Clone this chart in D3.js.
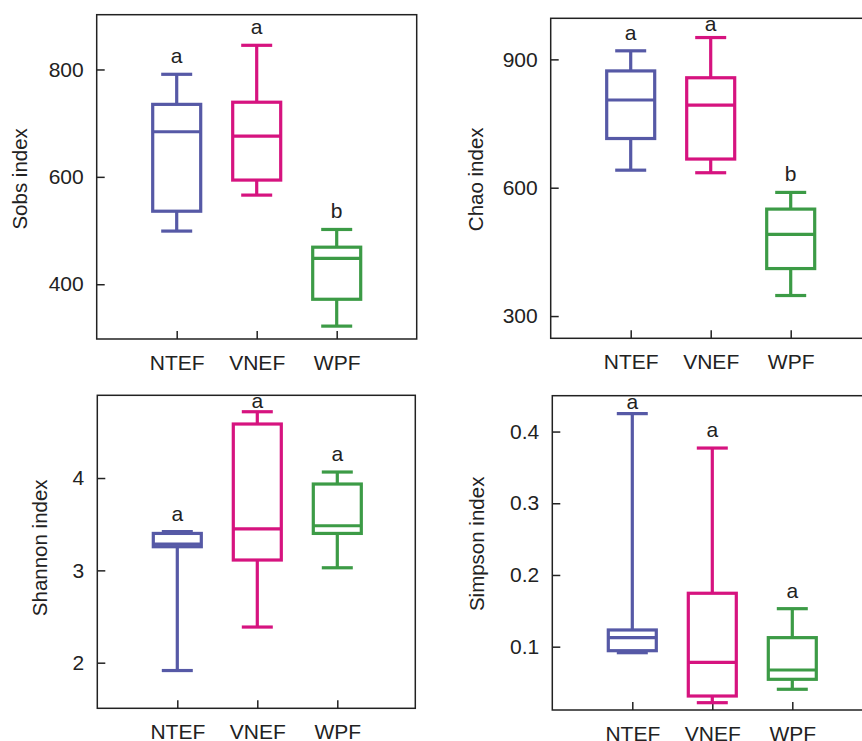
<!DOCTYPE html>
<html>
<head>
<meta charset="utf-8">
<script src="https://cdn.jsdelivr.net/npm/d3@7"></script>
<style>
  body { margin: 0; background: #fff; }
  text { font-family: "Liberation Sans", Arial, sans-serif; fill: #222; }
</style>
</head>
<body>
<svg id="chart" width="862" height="741"></svg>
<script>
// groups and colours
var groups = ["NTEF", "VNEF", "WPF"];
var colors = ["#5659a6", "#d6137f", "#3c9b46"];

// box stats per group: [min, q1, median, q3, max]
var sobsStats = [[499, 536, 684, 735, 791], [566, 594, 676, 739, 845], [322, 372, 448, 469, 502]];
var chaoStats = [[641, 715, 805, 873, 920], [635, 667, 793, 857, 951], [348, 411, 491, 550, 589]];
var shannonStats = [[1.915, 3.256, 3.285, 3.40, 3.42], [2.386, 3.112, 3.45, 4.585, 4.718], [3.028, 3.40, 3.483, 3.935, 4.065]];
var simpsonStats = [[0.0916, 0.0944, 0.1126, 0.1233, 0.425], [0.0219, 0.0312, 0.0782, 0.1745, 0.377], [0.0406, 0.0545, 0.0675, 0.1126, 0.153]];

// significance letters
var sobsLetters = ["a", "a", "b"];
var chaoLetters = ["a", "a", "b"];
var shannonLetters = ["a", "a", "a"];
var simpsonLetters = ["a", "a", "a"];

// y domains and ticks
var sobsDomain = [298, 902], sobsTicks = [400, 600, 800];
var chaoDomain = [248, 996], chaoTicks = [300, 600, 900];
var shannonDomain = [1.506, 4.896], shannonTicks = [2, 3, 4];
var simpsonDomain = [0.0117, 0.450], simpsonTicks = [0.1, 0.2, 0.3, 0.4];

var svg = d3.select("#chart");

// panel layout
var panels = [
  {left: 96.7, top: 14.7, w: 320, h: 324.3, label: "Sobs index", labelX: -70, labelDy: 2,
   stats: sobsStats, letters: sobsLetters, domain: sobsDomain, ticks: sobsTicks, fmt: d3.format("d")},
  {left: 550.7, top: 18.3, w: 320, h: 320, label: "Chao index", labelX: -67.4, labelDy: 1,
   stats: chaoStats, letters: chaoLetters, domain: chaoDomain, ticks: chaoTicks, fmt: d3.format("d")},
  {left: 97.3, top: 395.3, w: 318, h: 313, label: "Shannon index", labelX: -50.6, labelDy: -4,
   stats: shannonStats, letters: shannonLetters, domain: shannonDomain, ticks: shannonTicks, fmt: d3.format("d")},
  {left: 552.3, top: 395.7, w: 320, h: 314.3, label: "Simpson index", labelX: -68, labelDy: -9,
   stats: simpsonStats, letters: simpsonLetters, domain: simpsonDomain, ticks: simpsonTicks, fmt: d3.format(".1f")}
];

var boxW = 48, capW = 31;

panels.forEach(function(p) {
  var g = svg.append("g").attr("transform", "translate(" + p.left + "," + p.top + ")");

  var x = d3.scaleLinear().domain([0, 4]).range([0, 320]);
  var y = d3.scaleLinear().domain(p.domain).range([p.h, 0]);

  // axes, ticks pointing inward
  var ya = g.append("g")
      .call(d3.axisLeft(y).tickValues(p.ticks).tickFormat(p.fmt).tickSizeInner(-8).tickSizeOuter(0).tickPadding(13));
  var xa = g.append("g")
      .attr("transform", "translate(0," + p.h + ")")
      .call(d3.axisBottom(x).tickValues([1, 2, 3]).tickFormat(function(d) { return groups[d - 1]; })
        .tickSizeInner(-8).tickSizeOuter(0).tickPadding(16));
  [ya, xa].forEach(function(a) {
    a.select(".domain").remove();
    a.selectAll("line").attr("stroke", "#222").attr("stroke-width", 1.5);
    a.selectAll("text").style("font-size", "21px").attr("fill", "#222");
  });

  // frame
  g.append("rect")
      .attr("width", p.w).attr("height", p.h)
      .attr("fill", "none").attr("stroke", "#222").attr("stroke-width", 1.5);

  // y label
  g.append("text")
      .attr("transform", "translate(" + p.labelX + "," + (p.h / 2 + p.labelDy) + ") rotate(-90)")
      .attr("text-anchor", "middle")
      .style("font-size", "20.5px")
      .text(p.label);

  // boxes
  var box = g.selectAll(".box")
    .data(p.stats)
    .enter().append("g")
      .attr("class", "box")
      .attr("stroke", function(d, i) { return colors[i]; })
      .attr("stroke-width", 3.2)
      .attr("fill", "none");

  box.append("line")
      .attr("x1", function(d, i) { return x(i + 1); })
      .attr("x2", function(d, i) { return x(i + 1); })
      .attr("y1", function(d) { return y(d[4]); })
      .attr("y2", function(d) { return y(d[3]); });
  box.append("line")
      .attr("x1", function(d, i) { return x(i + 1); })
      .attr("x2", function(d, i) { return x(i + 1); })
      .attr("y1", function(d) { return y(d[1]); })
      .attr("y2", function(d) { return y(d[0]); });
  [0, 4].forEach(function(k) {
    box.append("line")
        .attr("x1", function(d, i) { return x(i + 1) - capW / 2; })
        .attr("x2", function(d, i) { return x(i + 1) + capW / 2; })
        .attr("y1", function(d) { return y(d[k]); })
        .attr("y2", function(d) { return y(d[k]); });
  });
  box.append("rect")
      .attr("x", function(d, i) { return x(i + 1) - boxW / 2; })
      .attr("y", function(d) { return y(d[3]); })
      .attr("width", boxW)
      .attr("height", function(d) { return y(d[1]) - y(d[3]); });
  box.append("line")
      .attr("x1", function(d, i) { return x(i + 1) - boxW / 2; })
      .attr("x2", function(d, i) { return x(i + 1) + boxW / 2; })
      .attr("y1", function(d) { return y(d[2]); })
      .attr("y2", function(d) { return y(d[2]); });

  // letters above whiskers
  g.selectAll(".letter")
    .data(p.stats)
    .enter().append("text")
      .attr("class", "letter")
      .attr("x", function(d, i) { return x(i + 1); })
      .attr("y", function(d) { return Math.max(y(d[4]) - 11, 13); })
      .attr("text-anchor", "middle")
      .style("font-size", "21px")
      .text(function(d, i) { return p.letters[i]; });
});
</script>
</body>
</html>
